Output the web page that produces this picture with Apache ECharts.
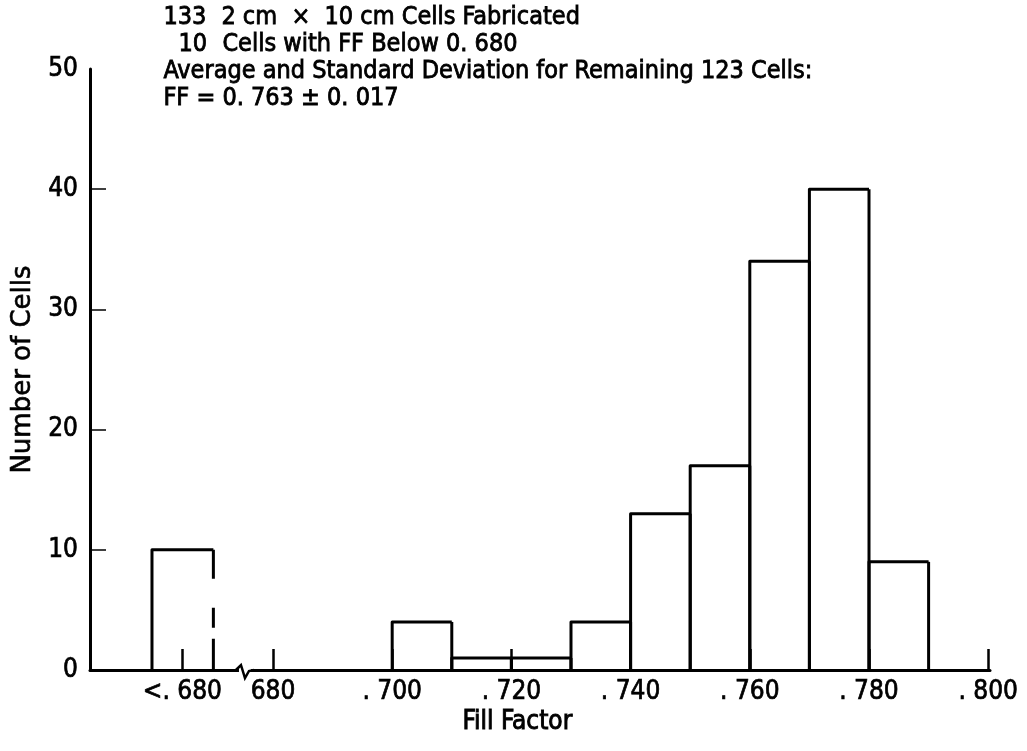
<!DOCTYPE html>
<html><head><meta charset="utf-8">
<script src="https://cdn.jsdelivr.net/npm/echarts@6/dist/echarts.min.js"></script>
<style>html,body{margin:0;padding:0;background:#fff}#c{width:1027px;height:751px}</style>
</head><body><div id="c"></div>
<script>
// ---- data ----
const binLabels = ['<.680', '.700', '.710', '.720', '.730', '.740', '.750', '.760', '.770', '.780'];
const binStart  = [0.6597, 0.700, 0.710, 0.720, 0.730, 0.740, 0.750, 0.760, 0.770, 0.780];
const binEnd    = [0.6700, 0.710, 0.720, 0.730, 0.740, 0.750, 0.760, 0.770, 0.780, 0.790];
const counts    = [10, 4, 1, 1, 4, 13, 17, 34, 40, 9];
const xTickValues = [0.6648, 0.680, 0.700, 0.720, 0.740, 0.760, 0.780, 0.800];
const xTickLabels = ['<. 680', '680', '. 700', '. 720', '. 740', '. 760', '. 780', '. 800'];
const yTickValues = [10, 20, 30, 40];
const xBreakValue = 0.6753;
const noteCounts = ['133', '10'];
const noteTexts  = ['2 cm  \u00d7  10 cm Cells Fabricated', 'Cells with FF Below 0. 680'];
const noteLine3  = 'Average and Standard Deviation for Remaining 123 Cells:';
const noteLine4  = 'FF = 0. 763 \u00b1 0. 017';
const xTitle = 'Fill Factor';
const yTitle = 'Number of Cells';

const FONT = "'DejaVu Sans Condensed', 'Liberation Sans Narrow', 'DejaVu Sans', sans-serif";
const chart = echarts.init(document.getElementById('c'), null, {renderer: 'canvas'});

const data = binStart.map((s, i) => [s, binEnd[i], counts[i]]);

function labelFor(v) {
  let best = 0, bd = 1e9;
  xTickValues.forEach((t, i) => { const d = Math.abs(t - v); if (d < bd) { bd = d; best = i; } });
  return xTickLabels[best];
}
function txt(id, text, left, top) {
  return {type: 'text', id: id, left: left, top: top,
    style: {text: text, fill: '#000', font: '25px ' + FONT, stroke: '#000', lineWidth: 0.8}};
}

const option = {
  animation: false,
  backgroundColor: '#fff',
  grid: {left: 90, right: 37, top: 69, bottom: 81, containLabel: false, outerBoundsMode: 'none'},
  xAxis: {
    type: 'value', min: 0.6493, max: 0.8003,
    splitLine: {show: false},
    axisLine: {show: true, lineStyle: {color: '#000', width: 3}},
    axisTick: {show: true, inside: true, length: 21, customValues: xTickValues, lineStyle: {color: '#000', width: 2.5}},
    axisLabel: {show: true, customValues: xTickValues, formatter: labelFor, color: '#000',
      fontFamily: FONT, fontSize: 26, margin: 9, textBorderColor: '#000', textBorderWidth: 0.7}
  },
  yAxis: {
    type: 'value', min: 0, max: 50, interval: 10,
    splitLine: {show: false},
    axisLine: {show: true, lineStyle: {color: '#000', width: 3}},
    axisTick: {show: true, inside: true, length: 16, customValues: yTickValues, lineStyle: {color: '#000', width: 1.5}},
    axisLabel: {color: '#000', fontFamily: FONT, fontSize: 26, margin: 12, textBorderColor: '#000', textBorderWidth: 0.7},
    name: yTitle, nameLocation: 'middle', nameGap: 54, nameRotate: 90,
    nameTextStyle: {color: '#000', fontFamily: "'DejaVu Sans', sans-serif", fontSize: 26, textBorderColor: '#000', textBorderWidth: 0.6}
  },
  series: [{
    type: 'custom',
    data: data,
    encode: {x: [0, 1], y: 2},
    renderItem: function (params, api) {
      const x0 = api.value(0), x1 = api.value(1), v = api.value(2);
      const pb = api.coord([x0, 0]);
      const pt = api.coord([x1, v]);
      const overflow = binLabels[params.dataIndex].charAt(0) === '<';
      return {
        type: 'group',
        children: [
          {type: 'polyline', shape: {points: [[pb[0], pb[1]], [pb[0], pt[1]], [pt[0], pt[1]]]},
           style: {stroke: '#000', lineWidth: 3, fill: null, lineJoin: 'round'}},
          {type: 'line', shape: {x1: pt[0], y1: pt[1], x2: pt[0], y2: pb[1]},
           style: {stroke: '#000', lineWidth: 3, lineDash: overflow ? [29, 29, 20, 11, 40] : null}}
        ]
      };
    }
  }],
  graphic: [
    txt('n1a', noteCounts[0], 163, 5),
    txt('n1b', noteTexts[0], 221, 5),
    txt('n2a', noteCounts[1], 178, 32),
    txt('n2b', noteTexts[1], 222, 32),
    txt('n3', noteLine3, 163, 59),
    txt('n4', noteLine4, 163, 86),
    {type: 'text', id: 'xt', left: 462, top: 709,
     style: {text: xTitle, fill: '#000', font: '26px ' + FONT, stroke: '#000', lineWidth: 0.9}}
  ]
};
chart.setOption(option);

// axis break mark
const bp = chart.convertToPixel({gridIndex: 0}, [xBreakValue, 0]);
chart.setOption({graphic: [
  {type: 'rect', id: 'brkgap', z: 99, shape: {x: bp[0] - 6, y: bp[1] - 3, width: 12, height: 6}, style: {fill: '#fff'}},
  {type: 'polyline', id: 'brk', z: 100,
   shape: {points: [[bp[0] - 9, bp[1]], [bp[0] - 4, bp[1] - 5], [bp[0], bp[1] + 8], [bp[0] + 4, bp[1] + 1], [bp[0] + 9, bp[1]]]},
   style: {stroke: '#000', lineWidth: 2.5, fill: null}}
]});
</script>
</body></html>
